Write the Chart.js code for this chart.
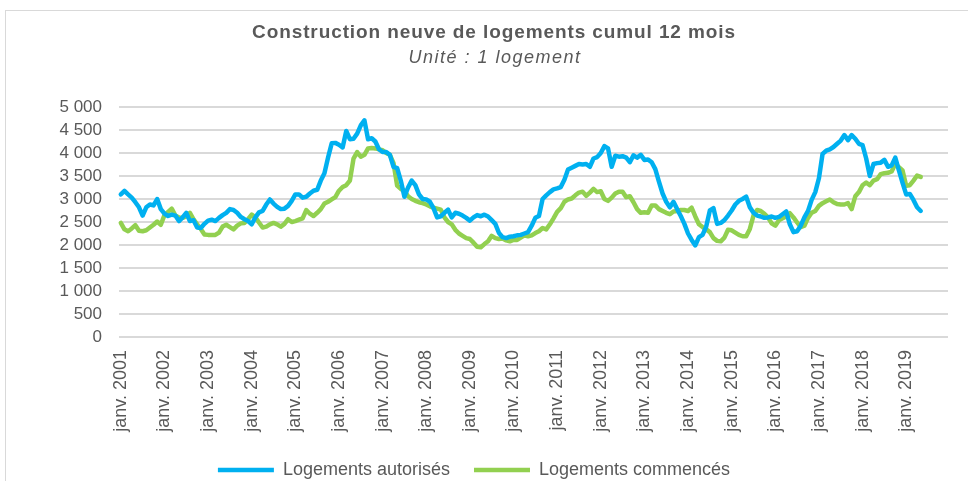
<!DOCTYPE html>
<html lang="fr">
<head>
<meta charset="utf-8">
<script src="https://cdn.jsdelivr.net/npm/chart.js@4.4.1/dist/chart.umd.min.js"></script>
<style>
  html, body { margin: 0; padding: 0; background: #fff; overflow: hidden; width: 968px; height: 481px; }
  #cadre { position: absolute; left: 5px; top: 10px; width: 1000px; height: 520px; border: 1px solid #d9d9d9; }
  #graph { position: absolute; left: 0; top: 0; }
</style>
</head>
<body>
<div id="cadre"></div>
<canvas id="graph" width="968" height="489"></canvas>
<script>
// textes
const titre = 'Construction neuve de logements cumul 12 mois';
const sousTitre = 'Unité : 1 logement';
const moisCourts = ['janv.', 'févr.', 'mars', 'avr.', 'mai', 'juin', 'juil.', 'août', 'sept.', 'oct.', 'nov.', 'déc.'];
const annees = [2001, 2002, 2003, 2004, 2005, 2006, 2007, 2008, 2009, 2010,
                2011, 2012, 2013, 2014, 2015, 2016, 2017, 2018, 2019];

// axe des dates : un libellé par mois, janv. 2001 -> déc. 2019
const mois = [];
annees.forEach(a => moisCourts.forEach(m => mois.push(m + ' ' + a)));

// cumul 12 mois, janv. 2001 -> mai 2019
const autorises = [
  3100, 3175, 3100, 3030, 2930, 2820, 2640, 2820, 2880, 2860,
  3000, 2780, 2680, 2630, 2660, 2640, 2520, 2600, 2700, 2520,
  2540, 2380, 2370, 2460, 2530, 2550, 2520, 2590, 2650, 2700,
  2780, 2760, 2700, 2610, 2560, 2520, 2450, 2600, 2710, 2740,
  2880, 2990, 2900, 2830, 2780, 2790, 2850, 2960, 3100, 3100,
  3030, 3050, 3120, 3180, 3200, 3400, 3560, 3900, 4210, 4220,
  4180, 4120, 4480, 4300, 4310, 4420, 4600, 4710, 4300, 4320,
  4250, 4080, 4020, 4020, 3960, 3700, 3670, 3400, 3050, 3250,
  3400, 3300, 3100, 3000, 2990, 2940, 2800, 2600, 2625, 2700,
  2770, 2600, 2700, 2680, 2640, 2590, 2530, 2600, 2650, 2625,
  2660, 2620, 2540, 2460, 2260, 2170, 2150, 2180, 2190, 2210,
  2220, 2250, 2280, 2420, 2590, 2630, 3000, 3080, 3150, 3210,
  3230, 3260, 3420, 3640, 3680, 3720, 3760, 3750, 3760, 3700,
  3880, 3910, 4000, 4150, 4100, 3700, 3940, 3920, 3930, 3900,
  3800, 3950, 3900, 3960, 3850, 3860, 3800, 3650, 3380, 3120,
  2940, 2820, 2940, 2780, 2630, 2460, 2250, 2110, 1990, 2170,
  2220, 2400, 2750, 2800, 2460, 2480, 2540, 2640, 2750, 2880,
  2960, 3000, 3050, 2820, 2700, 2640, 2620, 2590, 2600, 2620,
  2590, 2610, 2670, 2730, 2450, 2280, 2300, 2420, 2600, 2740,
  2980, 3150, 3450, 3980, 4050, 4080, 4130, 4200, 4270, 4390,
  4280, 4390, 4310, 4200, 4170, 3880, 3500, 3760, 3780, 3790,
  3850, 3700, 3730, 3900, 3620, 3350, 3100, 3110, 2980, 2820,
  2740
];
const commences = [
  2480, 2340, 2300, 2360, 2430, 2310, 2300, 2320, 2380, 2440,
  2510, 2440, 2650, 2720, 2790, 2640, 2600, 2590, 2620, 2700,
  2560, 2450, 2350, 2230, 2220, 2220, 2220, 2270, 2400, 2440,
  2390, 2340, 2420, 2470, 2480, 2560, 2660, 2600, 2490, 2380,
  2400, 2450, 2480, 2450, 2400, 2460, 2560, 2500, 2520, 2550,
  2580, 2760, 2680, 2630, 2700, 2780, 2900, 2940, 2990, 3040,
  3180, 3260, 3300, 3400, 3880, 4020, 3920, 3960, 4100, 4110,
  4100, 4080, 4060, 4000, 3960, 3780, 3290, 3220, 3180, 3060,
  3000, 2960, 2930, 2910, 2880, 2840, 2810, 2790, 2770, 2600,
  2500, 2450, 2330, 2250, 2200, 2150, 2130, 2050, 1960, 1950,
  2020, 2080, 2200, 2150, 2130, 2140, 2100, 2080, 2110, 2110,
  2160, 2210, 2190, 2210, 2260, 2300, 2370, 2340, 2450, 2580,
  2720, 2800, 2940, 2990, 3010, 3080, 3140, 3160, 3070, 3140,
  3220, 3150, 3170, 3000, 2960, 3030, 3120, 3160, 3160, 3040,
  3060, 2930, 2780, 2700, 2710, 2700, 2860, 2860, 2780, 2740,
  2700, 2670, 2730, 2740, 2760, 2760, 2740, 2810, 2620, 2450,
  2390, 2340, 2280, 2150, 2090, 2080, 2160, 2330, 2320, 2270,
  2220, 2190, 2190, 2350, 2640, 2760, 2740, 2680, 2600, 2470,
  2420, 2540, 2580, 2620, 2690, 2600, 2490, 2390, 2420, 2590,
  2700, 2740, 2850, 2910, 2950, 2990, 2930, 2890, 2880, 2880,
  2910, 2780, 3060, 3150, 3300, 3360, 3300, 3400, 3430, 3540,
  3560, 3570, 3600, 3760, 3690, 3620, 3290, 3300, 3400, 3510,
  3480
];

const gris = '#595959';
Chart.defaults.font.family = '"Liberation Sans", Arial, sans-serif';
Chart.defaults.color = gris;

function milliers(v) {
  return String(v).replace(/\B(?=(\d{3})+(?!\d))/g, ' ');
}

// titre + sous-titre dessinés à la main (centrés comme dans l'original)
const titres = {
  id: 'titres',
  afterDraw(chart) {
    const ctx = chart.ctx;
    ctx.save();
    ctx.fillStyle = gris;
    ctx.textAlign = 'center';
    ctx.textBaseline = 'middle';
    ctx.font = 'bold 19px "Liberation Sans", Arial, sans-serif';
    ctx.letterSpacing = '0.9px';
    ctx.fillText(titre, 494, 33);
    ctx.font = 'italic 18px "Liberation Sans", Arial, sans-serif';
    ctx.letterSpacing = '1.5px';
    ctx.fillText(sousTitre, 495, 58);
    ctx.restore();
  }
};

new Chart(document.getElementById('graph'), {
  type: 'line',
  data: {
    labels: mois,
    datasets: [{
      label: 'Logements autorisés',
      data: autorises,
      borderColor: '#00b0f0',
      backgroundColor: '#00b0f0',
      borderWidth: 4.5,
      pointRadius: 0,
      borderCapStyle: 'round',
      borderJoinStyle: 'round',
      tension: 0
    }, {
      label: 'Logements commencés',
      data: commences,
      borderColor: '#92d050',
      backgroundColor: '#92d050',
      borderWidth: 4.5,
      pointRadius: 0,
      borderCapStyle: 'round',
      borderJoinStyle: 'round',
      tension: 0
    }]
  },
  options: {
    responsive: false,
    animation: false,
    layout: { padding: { top: 107, right: 20, left: 0, bottom: 0 } },
    plugins: {
      tooltip: { enabled: false },
      title: { display: false },
      legend: {
        position: 'bottom',
        labels: {
          usePointStyle: true,
          pointStyle: 'line',
          pointStyleWidth: 56,
          padding: 24,
          color: gris,
          font: { size: 18 }
        }
      }
    },
    scales: {
      x: {
        type: 'category',
        offset: true,
        grid: { display: false, drawTicks: false },
        border: { display: false },
        ticks: {
          autoSkip: false,
          minRotation: 90,
          maxRotation: 90,
          padding: 13,
          color: gris,
          font: { size: 18 },
          callback: function (val, i) {
            return i % 12 === 0 ? this.getLabelForValue(val) : '';
          }
        },
        afterFit: s => { s.height = 100; s.paddingLeft = 0; s.paddingRight = 0; }
      },
      y: {
        min: 0,
        max: 5000,
        grid: { color: '#d9d9d9', lineWidth: 2, drawTicks: false },
        border: { display: false },
        ticks: {
          stepSize: 500,
          autoSkip: false,
          padding: 17,
          color: gris,
          font: { size: 17, lineHeight: 1 },
          callback: v => milliers(v)
        },
        afterFit: s => { s.width = 119; }
      }
    }
  },
  plugins: [titres]
});
</script>
</body>
</html>
